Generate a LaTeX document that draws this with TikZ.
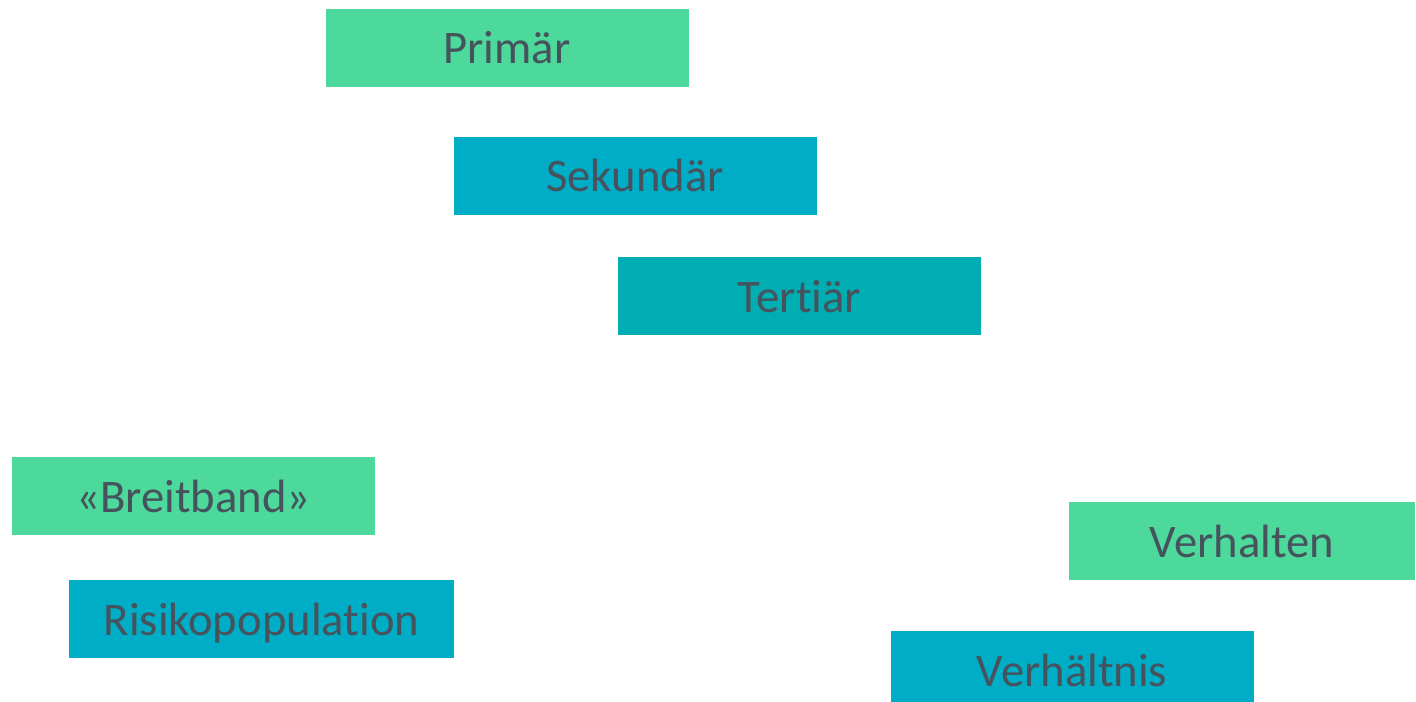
\documentclass[tikz,border=0pt]{standalone}
\usepackage{fontspec}
\setmainfont[Ligatures=NoCommon]{Carlito}
\usepackage{tikz}
\usepackage{xcolor}

\definecolor{mintgreen}{RGB}{76,217,155}
\definecolor{cyanblue}{RGB}{0,173,198}
\definecolor{tealblue}{RGB}{0,173,178}
\definecolor{slatetext}{RGB}{70,82,92}

\begin{document}
\begin{tikzpicture}[
    x=0.75pt, y=-0.75pt,
    box/.style={rectangle, inner sep=0pt, minimum width=272.25pt, minimum height=58.5pt,
        text height=24pt, text depth=0pt, text=slatetext, font=\fontsize{35}{40}\selectfont},
    greenbox/.style={box, fill=mintgreen},
    bluebox/.style={box, fill=cyanblue},
    tealbox/.style={box, fill=tealblue}
]

\useasboundingbox (0,0) rectangle (1416,702);

% Praevention nach Zeitpunkt
\node[greenbox] (primaer) at (507,48) {Primär};
\node[bluebox] (sekundaer) at (635,176) {Sekundär};
\node[tealbox] (tertiaer) at (799.5,296) {Tertiär};

% Zielgruppe
\node[greenbox] (breitband) at (193.5,496) {«Breitband»};
\node[bluebox, minimum width=288.75pt] (risiko) at (261.5,619) {Risikopopulation};

% Ansatz
\node[greenbox, minimum width=259.5pt] (verhalten) at (1242,541) {Verhalten};
\node[bluebox] (verhaeltnis) at (1072,670) {Verhältnis};

\end{tikzpicture}
\end{document}
